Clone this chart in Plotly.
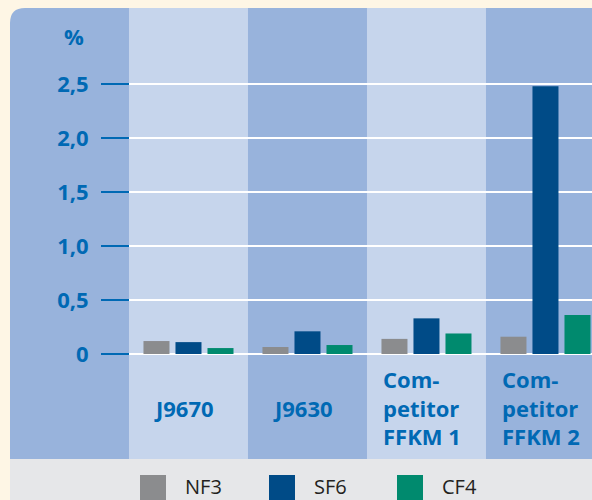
import plotly.graph_objects as go

W, H = 592, 500

categories = ["J9670", "J9630", "Competitor FFKM 1", "Competitor FFKM 2"]
category_labels = ["J9670", "J9630", "Com-<br>petitor<br>FFKM 1", "Com-<br>petitor<br>FFKM 2"]
series_names = ["NF3", "SF6", "CF4"]
nf3 = [0.12, 0.065, 0.14, 0.16]
sf6 = [0.11, 0.21, 0.33, 2.48]
cf4 = [0.055, 0.083, 0.19, 0.36]
series_colors = ["#8b8c8e", "#004b87", "#008a6e"]
tick_vals = [0, 0.5, 1.0, 1.5, 2.0, 2.5]
tick_text = ["0", "0,5", "1,0", "1,5", "2,0", "2,5"]
unit_label = "%"

BLUE_TXT = "#0069b4"
PANEL = "#98b3dc"
LIGHT = "#c6d5ec"
CREAM = "#fef6e5"
LEGBG = "#e6e7e9"
FONT = "Open Sans"


def fx(px):
    return px / W


def fy(py):
    return 1 - py / H


fig = go.Figure()
for name, vals, col in zip(series_names, [nf3, sf6, cf4], series_colors):
    fig.add_trace(go.Bar(x=categories, y=vals, name=name, marker_color=col,
                         marker_line_width=0, showlegend=False))

shapes = []
# panel with rounded top-left corner
r = 15
x0, y0, x1, y1 = 10, 8, W, H
path = (f"M {fx(x0)},{fy(y1)} L {fx(x0)},{fy(y0 + r)} "
        f"Q {fx(x0)},{fy(y0)} {fx(x0 + r)},{fy(y0)} "
        f"L {fx(x1)},{fy(y0)} L {fx(x1)},{fy(y1)} Z")
shapes.append(dict(type="path", path=path, xref="paper", yref="paper",
                   fillcolor=PANEL, line_width=0, layer="below"))
# light columns
for i, c in enumerate(categories):
    if i % 2 == 0:
        shapes.append(dict(type="rect", xref="x", yref="paper", x0=i - 0.5, x1=i + 0.5,
                           y0=fy(459), y1=fy(8), fillcolor=LIGHT, line_width=0,
                           layer="below"))
# legend band
shapes.append(dict(type="rect", xref="paper", yref="paper", x0=fx(10), x1=1,
                   y0=0, y1=fy(459), fillcolor=LEGBG, line_width=0, layer="below"))
# gridlines
for v in tick_vals:
    shapes.append(dict(type="line", xref="paper", yref="y", x0=fx(129), x1=1,
                       y0=v, y1=v, line=dict(color="white", width=2), layer="below"))

annotations = []
for c, lab in zip(categories, category_labels):
    annotations.append(dict(x=c, y=-0.5, xref="x", yref="y", text=lab, showarrow=False,
                            xanchor="center", yanchor="middle", align="left", xshift=-4,
                            font=dict(family=FONT, size=22, color=BLUE_TXT, weight="bold")))
annotations.append(dict(x=fx(74), y=fy(36), xref="paper", yref="paper", text=unit_label,
                        showarrow=False, xanchor="center", yanchor="middle",
                        font=dict(family=FONT, size=22, color=BLUE_TXT, weight="bold")))

# legend
leg_sq_x = [140, 269, 397]
for name, col, sx in zip(series_names, series_colors, leg_sq_x):
    shapes.append(dict(type="rect", xref="paper", yref="paper", x0=fx(sx), x1=fx(sx + 26),
                       y0=0, y1=fy(475), fillcolor=col, line_width=0, layer="above"))
    annotations.append(dict(x=fx(sx + 43), y=fy(486), xref="paper", yref="paper", text=name,
                            showarrow=False, xanchor="left", yanchor="middle",
                            font=dict(family=FONT, size=20, color="#231f20")))

fig.update_layout(
    width=W, height=H, autosize=False,
    margin=dict(l=0, r=0, t=0, b=0),
    paper_bgcolor=CREAM, plot_bgcolor=CREAM,
    barmode="group", bargap=0.193, bargroupgap=0.1875,
    shapes=shapes, annotations=annotations, showlegend=False,
    xaxis=dict(type="category", range=[-1.584, 3.391], showticklabels=False,
               showgrid=False, zeroline=False, showline=False, fixedrange=True),
    yaxis=dict(range=[-1.352, 3.278], anchor="free", position=fx(129),
               ticks="outside", ticklen=28, tickwidth=1.5, tickcolor=BLUE_TXT,
               tickvals=tick_vals, ticktext=tick_text, ticklabelstandoff=8,
               tickfont=dict(family=FONT, size=22, color=BLUE_TXT, weight="bold"),
               showgrid=False, zeroline=False, showline=False, fixedrange=True),
)

fig.write_html("out.html", config={"displayModeBar": False},
               post_script="document.body.style.margin='0';document.body.style.overflow='hidden';")
